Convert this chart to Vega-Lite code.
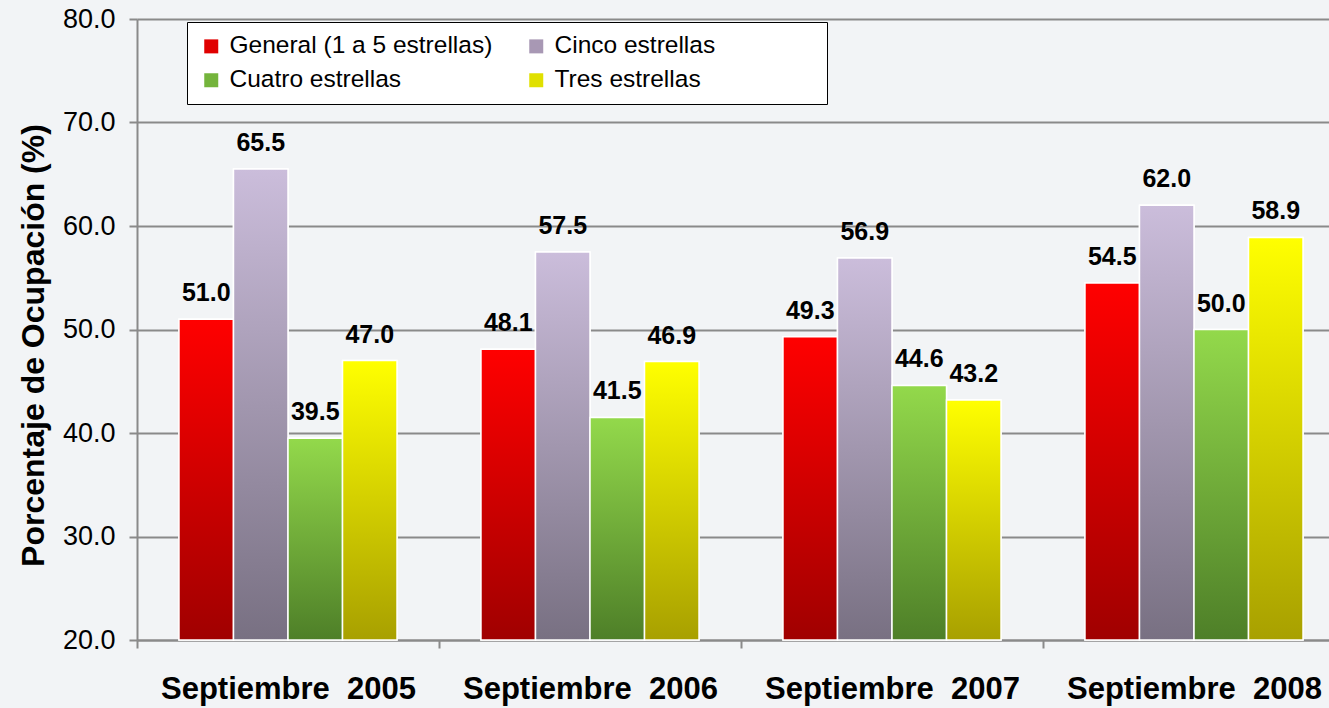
{
  "$schema": "https://vega.github.io/schema/vega-lite/v6.json",
  "width": 1208,
  "height": 621,
  "autosize": {"type": "none"},
  "padding": {"left": 137, "top": 19, "right": 0, "bottom": 68},
  "background": "#f2f4f6",
  "config": {
    "view": {"stroke": null},
    "font": "Liberation Sans"
  },
  "data": {
    "values": [
      {"periodo": "Septiembre\u00a0 2005", "serie": "General (1 a 5 estrellas)", "valor": 51.0},
      {"periodo": "Septiembre\u00a0 2005", "serie": "Cinco estrellas", "valor": 65.5},
      {"periodo": "Septiembre\u00a0 2005", "serie": "Cuatro estrellas", "valor": 39.5},
      {"periodo": "Septiembre\u00a0 2005", "serie": "Tres estrellas", "valor": 47.0},
      {"periodo": "Septiembre\u00a0 2006", "serie": "General (1 a 5 estrellas)", "valor": 48.1},
      {"periodo": "Septiembre\u00a0 2006", "serie": "Cinco estrellas", "valor": 57.5},
      {"periodo": "Septiembre\u00a0 2006", "serie": "Cuatro estrellas", "valor": 41.5},
      {"periodo": "Septiembre\u00a0 2006", "serie": "Tres estrellas", "valor": 46.9},
      {"periodo": "Septiembre\u00a0 2007", "serie": "General (1 a 5 estrellas)", "valor": 49.3},
      {"periodo": "Septiembre\u00a0 2007", "serie": "Cinco estrellas", "valor": 56.9},
      {"periodo": "Septiembre\u00a0 2007", "serie": "Cuatro estrellas", "valor": 44.6},
      {"periodo": "Septiembre\u00a0 2007", "serie": "Tres estrellas", "valor": 43.2},
      {"periodo": "Septiembre\u00a0 2008", "serie": "General (1 a 5 estrellas)", "valor": 54.5},
      {"periodo": "Septiembre\u00a0 2008", "serie": "Cinco estrellas", "valor": 62.0},
      {"periodo": "Septiembre\u00a0 2008", "serie": "Cuatro estrellas", "valor": 50.0},
      {"periodo": "Septiembre\u00a0 2008", "serie": "Tres estrellas", "valor": 58.9}
    ]
  },
  "encoding": {
    "x": {
      "field": "periodo",
      "type": "nominal",
      "sort": null,
      "scale": {"paddingInner": 0, "paddingOuter": 0},
      "axis": {
        "title": null,
        "labelAngle": 0,
        "labelFont": "Liberation Sans",
        "labelFontSize": 31,
        "labelFontWeight": "bold",
        "labelColor": "#000000",
        "labelPadding": 26,
        "labelLimit": 400,
        "tickBand": "extent",
        "tickSize": 8,
        "tickColor": "#8a8a8a",
        "tickWidth": 2,
        "domainColor": "#8a8a8a",
        "domainWidth": 2,
        "grid": false
      }
    },
    "xOffset": {
      "field": "serie",
      "type": "nominal",
      "scale": {"domain": ["General (1 a 5 estrellas)", "Cinco estrellas", "Cuatro estrellas", "Tres estrellas"], "paddingInner": 0, "paddingOuter": 0.77}
    },
    "y": {
      "field": "valor",
      "type": "quantitative",
      "scale": {"domain": [20, 80], "nice": false, "zero": false},
      "axis": {
        "title": "Porcentaje de Ocupación (%)",
        "titleFont": "Liberation Sans",
        "titleFontSize": 32,
        "titleFontWeight": "bold",
        "titleColor": "#000000",
        "titlePadding": 12,
        "titleY": 326,
        "values": [20, 30, 40, 50, 60, 70, 80],
        "format": ".1f",
        "labelFont": "Liberation Sans",
        "labelFontSize": 27,
        "labelColor": "#000000",
        "labelPadding": 14,
        "tickSize": 8,
        "tickColor": "#8a8a8a",
        "tickWidth": 2,
        "domainColor": "#8a8a8a",
        "domainWidth": 2,
        "grid": true,
        "gridColor": "#8a8a8a",
        "gridWidth": 2
      }
    },
    "y2": {"datum": 20}
  },
  "layer": [
    {
      "mark": {"type": "bar", "stroke": "#ffffff", "strokeWidth": 1.5},
      "encoding": {
        "fill": {
          "field": "serie",
          "type": "nominal",
          "scale": {
            "domain": ["General (1 a 5 estrellas)", "Cinco estrellas", "Cuatro estrellas", "Tres estrellas"],
            "range": ["#e00000", "#a898b4", "#74b43c", "#e0e000"]
          },
          "legend": {
            "title": "\u00a0",
            "titleOrient": "right",
            "titlePadding": 100,
            "titleFontSize": 12,
            "orient": "none",
            "legendX": 50,
            "legendY": 3,
            "direction": "horizontal",
            "columns": 2,
            "gridAlign": "all",
            "columnPadding": 31,
            "rowPadding": 9,
            "padding": 12,
            "symbolType": "square",
            "symbolSize": 196,
            "symbolStrokeWidth": 0,
            "labelFont": "Liberation Sans",
            "labelFontSize": 24.5,
            "labelColor": "#000000",
            "labelLimit": 400,
            "labelOffset": 6,
            "fillColor": "#ffffff",
            "strokeColor": "#000000"
          }
        }
      }
    },
    {
      "transform": [{"filter": "datum.serie === 'General (1 a 5 estrellas)'"}],
      "mark": {"type": "bar", "stroke": "#ffffff", "strokeWidth": 1.5, "fill": {"gradient": "linear", "x1": 0, "y1": 0, "x2": 0, "y2": 1, "stops": [{"offset": 0, "color": "#ff0000"}, {"offset": 1, "color": "#a00000"}]}}
    },
    {
      "transform": [{"filter": "datum.serie === 'Cinco estrellas'"}],
      "mark": {"type": "bar", "stroke": "#ffffff", "strokeWidth": 1.5, "fill": {"gradient": "linear", "x1": 0, "y1": 0, "x2": 0, "y2": 1, "stops": [{"offset": 0, "color": "#cbbddb"}, {"offset": 1, "color": "#787082"}]}}
    },
    {
      "transform": [{"filter": "datum.serie === 'Cuatro estrellas'"}],
      "mark": {"type": "bar", "stroke": "#ffffff", "strokeWidth": 1.5, "fill": {"gradient": "linear", "x1": 0, "y1": 0, "x2": 0, "y2": 1, "stops": [{"offset": 0, "color": "#93d94b"}, {"offset": 1, "color": "#4e7f28"}]}}
    },
    {
      "transform": [{"filter": "datum.serie === 'Tres estrellas'"}],
      "mark": {"type": "bar", "stroke": "#ffffff", "strokeWidth": 1.5, "fill": {"gradient": "linear", "x1": 0, "y1": 0, "x2": 0, "y2": 1, "stops": [{"offset": 0, "color": "#ffff00"}, {"offset": 1, "color": "#a8a000"}]}}
    },
    {
      "mark": {"type": "text", "font": "Liberation Sans", "fontSize": 25, "fontWeight": "bold", "color": "#000000", "baseline": "alphabetic", "dy": -18},
      "encoding": {
        "y2": null,
        "text": {"field": "valor", "type": "quantitative", "format": ".1f"}
      }
    }
  ]
}
